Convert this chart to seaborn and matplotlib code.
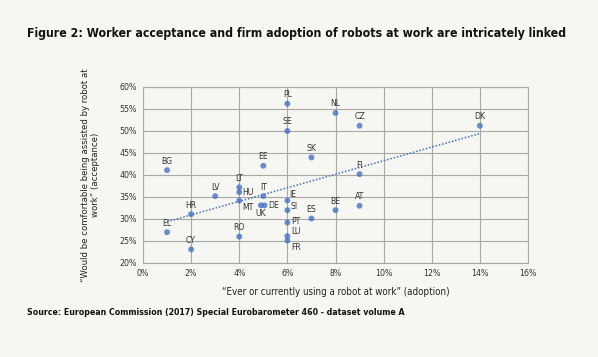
import matplotlib
matplotlib.use("Agg")
import matplotlib.pyplot as plt
import seaborn as sns
import pandas as pd
from matplotlib.ticker import PercentFormatter, MultipleLocator

countries = ["PL", "SE", "NL", "CZ", "DK", "BG", "EE", "SK", "FI", "LT", "HU", "LV",
             "IT", "MT", "DE", "UK", "IE", "SI", "BE", "AT", "HR", "ES", "PT", "EL",
             "RO", "LU", "FR", "CY"]
adoption = [6, 6, 8, 9, 14, 1, 5, 7, 9, 4, 4, 3,
            5, 4, 5.05, 4.9, 6, 6, 8, 9, 2, 7, 6, 1,
            4, 6, 6, 2]
acceptance = [56.2, 50.0, 54.1, 51.2, 51.2, 41.1, 42.1, 44.0, 40.2, 37.2, 36.1, 35.2,
              35.2, 34.2, 33.1, 33.1, 34.2, 32.0, 32.0, 33.0, 31.1, 30.1, 29.2, 27.0,
              26.0, 26.1, 25.1, 23.1]

title = "Figure 2: Worker acceptance and firm adoption of robots at work are intricately linked"
xlabel = "\u201cEver or currently using a robot at work\u201d (adoption)"
ylabel = "\u201cWould be comfortable being assisted by robot at\nwork\u201d (acceptance)"
source = "Source: European Commission (2017) Special Eurobarometer 460 - dataset volume A"

df = pd.DataFrame({"country": countries, "adoption": adoption, "acceptance": acceptance})

sns.set_theme(style="white")
plt.rcParams["font.family"] = ["DejaVu Sans"]
plt.rcParams["font.stretch"] = "condensed"

bg = "#f6f6f2"
blue = "#4472c4"
fig = plt.figure(figsize=(5.98, 3.57), dpi=100, facecolor=bg)
ax = fig.add_axes([143 / 598, 1 - 263 / 357, (528 - 143) / 598, (263 - 87) / 357])
ax.set_facecolor(bg)

sns.regplot(data=df, x="adoption", y="acceptance", ax=ax, ci=None, truncate=True,
            scatter_kws=dict(s=18, color=blue, edgecolor="none", zorder=3),
            line_kws=dict(color=blue, lw=1.1, ls=(0, (1, 1.2)), zorder=2))

ax.set_xlim(0, 16)
ax.set_ylim(20, 60)
ax.xaxis.set_major_locator(MultipleLocator(2))
ax.yaxis.set_major_locator(MultipleLocator(5))
ax.xaxis.set_major_formatter(PercentFormatter(100, decimals=0))
ax.yaxis.set_major_formatter(PercentFormatter(100, decimals=0))
ax.grid(True, color="#a8a8a5", lw=0.8)
ax.set_axisbelow(True)
for s in ax.spines.values():
    s.set_color("#a8a8a5")
    s.set_linewidth(0.8)
ax.tick_params(axis="both", length=0, labelsize=6.3, colors="#333333", pad=4.5)
ax.set_xlabel(xlabel, fontsize=7, color="#222222", labelpad=6)
ax.set_ylabel(ylabel, fontsize=6.8, color="#222222", labelpad=14)

# label placement: (dx, dy in points, ha, va)
right = {"HU": (2.5, 0, "left", "center"), "MT": (2.5, -5, "left", "center"),
         "DE": (2.5, 0, "left", "center"), "UK": (0, -6, "center", "center"),
         "IE": (1.5, 4.5, "left", "center"), "SI": (2.5, 2.5, "left", "center"),
         "PT": (2.5, 1, "left", "center"), "LU": (2.5, 3, "left", "center"),
         "FR": (2.5, -5, "left", "center")}
for c, x, y in zip(countries, adoption, acceptance):
    dx, dy, ha, va = right.get(c, (0, 6.5, "center", "center"))
    ax.annotate(c, (x, y), xytext=(dx, dy), textcoords="offset points",
                ha=ha, va=va, fontsize=6.2, color="#333333")

t1 = fig.text(27 / 598, 1 - 33 / 357, title, fontsize=10.5, fontweight="bold",
              color="#111111", ha="left", va="center")
fig.text(27 / 598, 1 - 312.5 / 357, source, fontsize=6.3, fontweight="bold",
         color="#111111", ha="left", va="center")

# fit the title to the reference width
fig.canvas.draw()
r = fig.canvas.get_renderer()
cur = t1.get_window_extent(r).width
t1.set_fontsize(t1.get_fontsize() * 545 / cur)

fig.savefig("out.png", dpi=100, facecolor=bg)
